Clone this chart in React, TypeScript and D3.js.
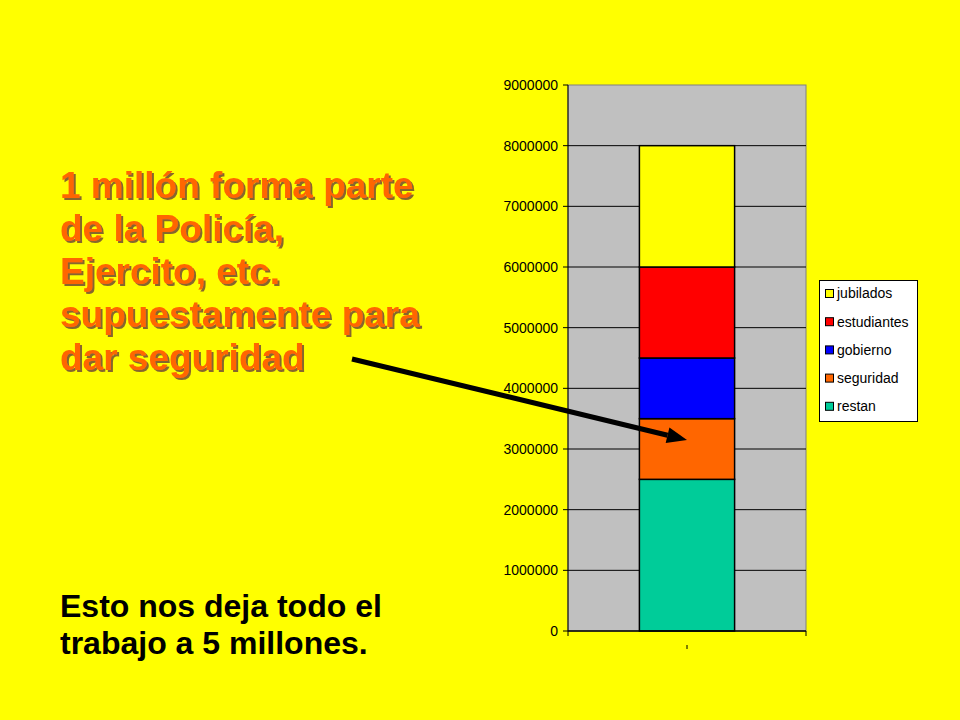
import { useMemo } from "react";
import * as d3 from "d3";

/* ---------- data ---------- */

const categories = [""];
const seriesNames = ["restan", "seguridad", "gobierno", "estudiantes", "jubilados"];
const seriesValues = [2500000, 1000000, 1000000, 1500000, 2000000];
const seriesColors = ["#00CC99", "#FF6600", "#0000FF", "#FF0000", "#FFFF00"];
const yTicks = [0, 1000000, 2000000, 3000000, 4000000, 5000000, 6000000, 7000000, 8000000, 9000000];

const headline = [
  "1 millón forma parte",
  "de la Policía,",
  "Ejercito, etc.",
  "supuestamente para",
  "dar seguridad",
];
const footnote = ["Esto nos deja todo el", "trabajo a 5 millones."];

/* ---------- layout ---------- */

const W = 960;
const H = 720;
const plot = { left: 568, right: 806, top: 85, bottom: 631 };
const FONT = "Arial, 'Liberation Sans', Helvetica, sans-serif";

export default function App() {
  const y = useMemo(
    () => d3.scaleLinear().domain([0, 9000000]).range([plot.bottom, plot.top]),
    [],
  );
  const x = useMemo(
    () =>
      d3
        .scaleBand<string>()
        .domain(categories)
        .range([plot.left, plot.right])
        .paddingInner(0.5)
        .paddingOuter(0.375),
    [],
  );

  const stacked = useMemo(() => {
    const row: Record<string, number> = {};
    seriesNames.forEach((n, i) => (row[n] = seriesValues[i]));
    return d3.stack<Record<string, number>>().keys(seriesNames)([row]);
  }, []);

  const barMid = (x("") ?? 0) + x.bandwidth() / 2;

  // arrow: from the end of the text to the "seguridad" segment
  const from: [number, number] = [352, 359];
  const to: [number, number] = [barMid, y(3150000)];
  const ang = Math.atan2(to[1] - from[1], to[0] - from[0]);
  const headLen = 20;
  const headHalf = 8;
  const base: [number, number] = [to[0] - headLen * Math.cos(ang), to[1] - headLen * Math.sin(ang)];
  const head = [
    to,
    [base[0] + headHalf * Math.sin(ang), base[1] - headHalf * Math.cos(ang)],
    [base[0] - headHalf * Math.sin(ang), base[1] + headHalf * Math.cos(ang)],
  ];

  const legendItems = [...seriesNames].reverse();

  return (
    <svg
      width={W}
      height={H}
      style={{ position: "absolute", left: 0, top: 0, background: "#FFFF00" }}
      fontFamily={FONT}
    >
      <defs>
        <filter id="shadow" x="-5%" y="-20%" width="115%" height="150%">
          <feDropShadow dx={2} dy={2} stdDeviation={0.6} floodColor="#7a5530" floodOpacity={0.9} />
        </filter>
      </defs>
      <rect width={W} height={H} fill="#FFFF00" />

      {/* plot area */}
      <rect
        x={plot.left}
        y={plot.top}
        width={plot.right - plot.left}
        height={plot.bottom - plot.top}
        fill="#C0C0C0"
        stroke="#808080"
        strokeWidth={1}
      />

      {/* gridlines */}
      {yTicks.slice(1, -1).map((t) => (
        <line key={t} x1={plot.left} x2={plot.right} y1={y(t)} y2={y(t)} stroke="#000" strokeWidth={1} />
      ))}

      {/* stacked bar */}
      {stacked.map((s, i) =>
        s.map((d, j) => (
          <rect
            key={`${i}-${j}`}
            x={x(categories[j])}
            width={x.bandwidth()}
            y={y(d[1])}
            height={y(d[0]) - y(d[1])}
            fill={seriesColors[i]}
            stroke="#000"
            strokeWidth={1.5}
          />
        )),
      )}

      {/* y axis */}
      <line x1={plot.left} x2={plot.left} y1={plot.top} y2={plot.bottom} stroke="#000" />
      {yTicks.map((t) => (
        <g key={t} transform={`translate(0,${y(t)})`}>
          <line x1={plot.left - 5} x2={plot.left} stroke="#000" />
          <text x={plot.left - 10} dy="0.35em" textAnchor="end" fontSize={14} fill="#000">
            {t}
          </text>
        </g>
      ))}

      {/* x axis */}
      <line x1={plot.left} x2={plot.right} y1={plot.bottom} y2={plot.bottom} stroke="#000" strokeWidth={1.5} />
      <line x1={plot.left} x2={plot.left} y1={plot.bottom} y2={plot.bottom + 5} stroke="#000" />
      <line x1={plot.right} x2={plot.right} y1={plot.bottom} y2={plot.bottom + 5} stroke="#000" />
      <line x1={barMid} x2={barMid} y1={plot.bottom + 14} y2={plot.bottom + 18} stroke="#000" />

      {/* legend */}
      <rect x={819.5} y={280.5} width={98} height={141} fill="#fff" stroke="#000" />
      {legendItems.map((n, i) => {
        const cy = 293.5 + i * 28.2;
        const c = seriesColors[seriesNames.indexOf(n)];
        return (
          <g key={n}>
            <rect x={825.5} y={cy - 4} width={8} height={8} fill={c} stroke="#000" />
            <text x={837} y={cy} dy="0.35em" fontSize={14} fill="#000">
              {n}
            </text>
          </g>
        );
      })}

      {/* headline text */}
      <g fontSize={37} fontWeight="bold" fill="#FF6600" filter="url(#shadow)">
        {headline.map((line, i) => (
          <text key={i} x={60} y={198 + i * 43}>
            {line}
          </text>
        ))}
      </g>

      {/* footnote */}
      {footnote.map((line, i) => (
        <text key={i} x={60} y={617 + i * 37} fontSize={32} fontWeight="bold" fill="#000">
          {line}
        </text>
      ))}

      {/* arrow */}
      <line x1={from[0]} y1={from[1]} x2={base[0]} y2={base[1]} stroke="#000" strokeWidth={5} />
      <polygon points={head.map((p) => p.join(",")).join(" ")} fill="#000" />
    </svg>
  );
}
